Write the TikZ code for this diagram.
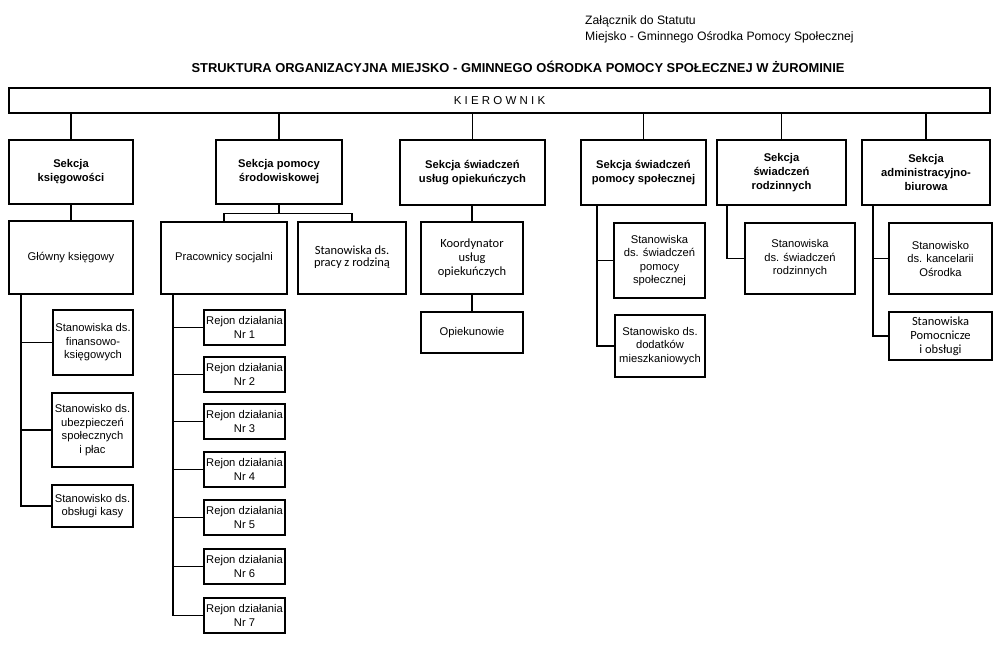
\documentclass[tikz,border=0pt]{standalone}
\usepackage{fontspec}
\setmainfont{Liberation Sans}
\newfontfamily\segfont{Carlito}
\usetikzlibrary{calc}
\tikzset{
  bx/.style n args={4}{minimum width={(#3)-(#1)}, minimum height={(#4)-(#2)}, at={({(#1+#3)/2},{(#2+#4)/2})}},
  box/.style={draw=black, line width=1.1pt, inner sep=0pt, align=center, font=\fontsize{11.2}{13.5}\selectfont},
  sect/.style={box, font=\bfseries\fontsize{11.2}{14}\selectfont},
  segbox/.style={box, font=\segfont\fontsize{12.5}{14.2}\selectfont},
  link/.style={line width=1.1pt, draw=black},
}
\begin{document}
\begin{tikzpicture}[x=1pt,y=-1pt]
\useasboundingbox (0,0) rectangle (1000,661);
\fill[white] (0,0) rectangle (1000,661);
% header
\node[anchor=west, align=left, inner sep=0pt, font=\fontsize{12.2}{16}\selectfont] (hdr) at (585,29) {Załącznik do Statutu\\Miejsko - Gminnego Ośrodka Pomocy Społecznej};
\node[inner sep=0pt, font=\bfseries\fontsize{12.9}{15}\selectfont] (title) at (518,67) {STRUKTURA ORGANIZACYJNA MIEJSKO - GMINNEGO OŚRODKA POMOCY SPOŁECZNEJ W ŻUROMINIE};
% top
\node[box, bx={9}{88}{990}{113}, font=\fontsize{11.5}{14}\selectfont] (kier) {K I E R O W N I K};
% sections
\node[sect, bx={9}{140}{133}{204}] (s1) {Sekcja\\księgowości};
\node[sect, bx={216}{140}{342}{204}] (s2) {Sekcja pomocy\\środowiskowej};
\node[sect, bx={400}{140}{545}{205}] (s3) {Sekcja świadczeń\\usług opiekuńczych};
\node[sect, bx={581}{140}{706}{205}] (s4) {Sekcja świadczeń\\pomocy społecznej};
\node[sect, bx={717}{140}{846}{205}] (s5) {Sekcja\\świadczeń\\rodzinnych};
\node[sect, bx={862}{140}{990}{205}] (s6) {Sekcja\\administracyjno-\\biurowa};
\foreach \s in {s1,s2,s3,s4,s5,s6} \draw[link] (\s.north) -- (\s.north |- kier.south);
% column 1
\node[box, bx={9}{221}{133}{294}] (g) {Główny księgowy};
\node[box, bx={53}{310}{133}{375}] (fin) {Stanowiska ds.\\finansowo-\\księgowych};
\node[box, bx={52}{393}{133}{467}] (ube) {Stanowisko ds.\\ubezpieczeń\\społecznych\\i płac};
\node[box, bx={52}{485}{133}{527}] (kasa) {Stanowisko ds.\\obsługi kasy};
\draw[link] (s1.south) -- (g.north);
\coordinate (gb) at (21,294);
\draw[link] (gb) |- (fin.west);
\draw[link] (gb) |- (ube.west);
\draw[link] (gb) |- (kasa.west);
% column 2
\node[box, bx={161}{222}{287}{294}] (prac) {Pracownicy socjalni};
\node[segbox, bx={298}{222}{406}{294}] (rodz) {\raisebox{5pt}{\begin{tabular}{@{}c@{}}Stanowiska ds.\\[-2.5pt]pracy z rodziną\end{tabular}}};
\coordinate (s2j) at ($(s2.south)+(0,9)$);
\draw[link] (s2.south) -- (s2j);
\draw[link] (prac.north) |- (s2j) -| (rodz.north);
\coordinate (pb) at (173,294);
\foreach \k/\t in {1/310,2/357,3/404,4/452,5/500,6/549,7/598} {
  \node[box, bx={204}{\t}{285}{\t+35}] (r\k) {Rejon działania\\Nr \k};
  \draw[link] (pb) |- (r\k.west);
}
% column 3
\node[segbox, bx={421}{222}{523}{294}] (koord) {Koordynator\\usług\\opiekuńczych};
\node[box, bx={421}{312}{523}{353}] (opiek) {Opiekunowie};
\draw[link] (s3.south -| koord.north) -- (koord.north);
\draw[link] (koord.south) -- (opiek.north);
% column 4
\node[box, bx={614}{223}{705}{298}] (swp) {Stanowiska\\ds. świadczeń\\pomocy\\społecznej};
\node[box, bx={615}{315}{705}{377}] (dod) {Stanowisko ds.\\dodatków\\mieszkaniowych};
\coordinate (s4b) at (597,205);
\draw[link] (s4b) |- (swp.west);
\draw[link] (s4b) |- (dod.west);
% column 5
\node[box, bx={745}{223}{855}{294}] (srodz) {Stanowiska\\ds. świadczeń\\rodzinnych};
\coordinate (s5b) at (727,205);
\draw[link] (s5b) |- (srodz.west);
% column 6
\node[box, bx={889}{223}{992}{294}] (kanc) {Stanowisko\\ds. kancelarii\\Ośrodka};
\node[segbox, bx={889}{312}{992}{360}] (pomoc) {Stanowiska\\Pomocnicze\\i obsługi};
\coordinate (s6b) at (873,205);
\draw[link] (s6b) |- (kanc.west);
\draw[link] (s6b) |- (pomoc.west);
\end{tikzpicture}
\end{document}
